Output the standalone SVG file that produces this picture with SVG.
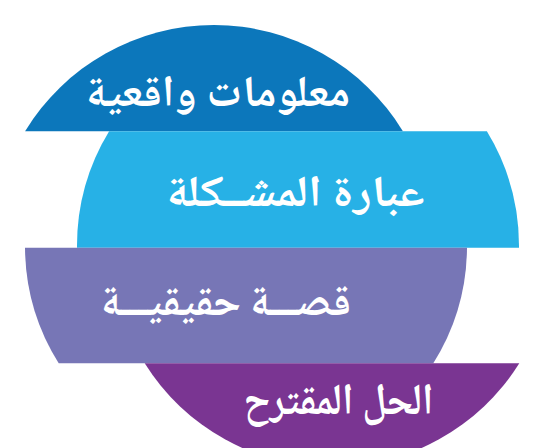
<svg xmlns="http://www.w3.org/2000/svg" width="544" height="448" viewBox="0 0 544 448">
<style>
.lbl{font-family:"Noto Naskh Arabic","Noto Sans Arabic","DejaVu Sans",sans-serif;font-weight:bold;font-size:44px;fill:#ffffff;text-anchor:middle;direction:rtl}
</style>
<rect width="544" height="448" fill="#ffffff"/>
<g id="band1">
<path d="M25.1,131.3 A221,221 0 0 1 402.9,131.3 Z" fill="#0c77bb"/>
<text class="lbl" x="218" y="106" textLength="264" lengthAdjust="spacingAndGlyphs">معلومات واقعية</text>
</g>
<g id="band2">
<path d="M109.1,131.3 L486.9,131.3 A221,221 0 0 1 519,247.7 L77,247.7 A221,221 0 0 1 109.1,131.3 Z" fill="#27b1e6"/>
<text class="lbl" x="295.5" y="206" textLength="258" lengthAdjust="spacingAndGlyphs">عبارة المشــكلة</text>
</g>
<g id="band3">
<path d="M25,247.7 L467,247.7 A221,221 0 0 1 433.3,363.3 L58.7,363.3 A221,221 0 0 1 25,247.7 Z" fill="#7776b6"/>
<text class="lbl" x="226" y="315" textLength="250" lengthAdjust="spacingAndGlyphs">قصـــة حقيقيـــة</text>
</g>
<g id="band4">
<path d="M144.7,363.3 L519.3,363.3 A221,221 0 0 1 144.7,363.3 Z" fill="#7a3592"/>
<text class="lbl" x="338.5" y="414" textLength="190" lengthAdjust="spacingAndGlyphs">الحل المقترح</text>
</g>
<g id="connectors"></g>
</svg>
